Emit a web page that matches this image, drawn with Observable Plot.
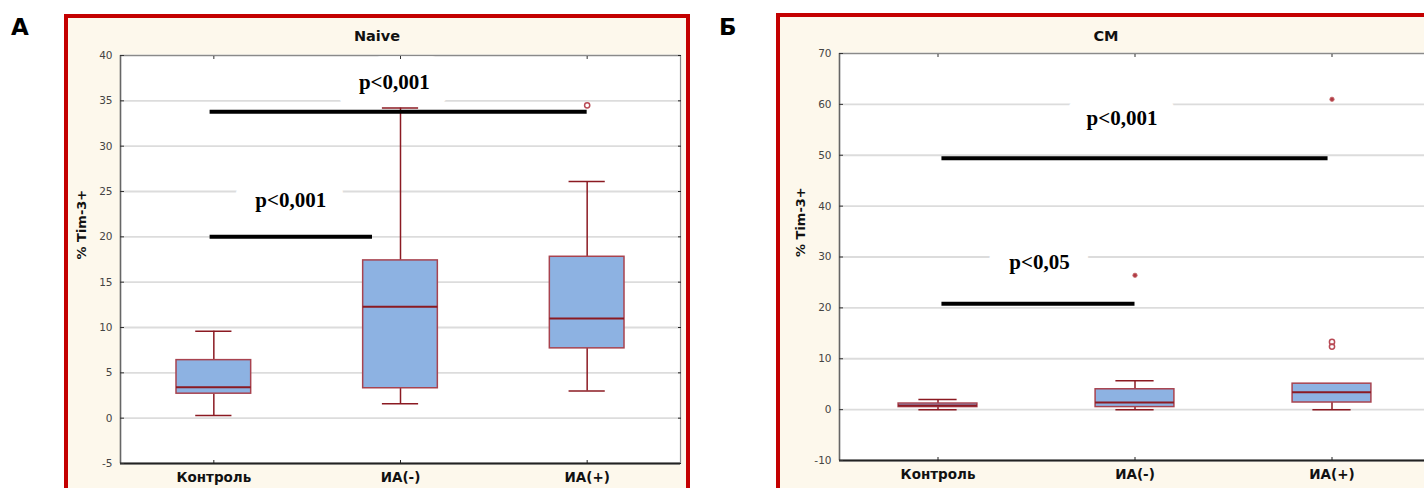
<!DOCTYPE html>
<html><head><meta charset="utf-8">
<script src="https://cdn.jsdelivr.net/npm/d3@7"></script>
<script src="https://cdn.jsdelivr.net/npm/@observablehq/plot@0.6"></script>
<style>
html,body{margin:0;padding:0}
body{width:1424px;height:488px;overflow:hidden;background:#fff;position:relative;font-family:"DejaVu Sans",sans-serif;}
.panel{position:absolute;border:4px solid #c40000;background:#fdf8ec;box-sizing:border-box;}
.plabel{position:absolute;font:bold 23px/1 "DejaVu Sans",sans-serif;color:#000;}
.title{position:absolute;font:bold 14.5px/1 "DejaVu Sans",sans-serif;color:#111;transform:translateX(-50%);white-space:nowrap}
.plot{position:absolute}
.plot svg{max-width:none !important}
</style></head><body>
<div class="plabel" style="left:11px;top:16px">А</div>
<div class="plabel" style="left:719px;top:16px">Б</div>
<div class="panel" style="left:64px;top:14px;width:626px;height:490px"></div>
<div class="panel" style="left:776px;top:13px;width:660px;height:490px"></div>
<div class="title" id="ta" style="left:377px;top:29px"></div>
<div class="title" id="tb" style="left:1106px;top:29px"></div>
<div id="pa" class="plot" style="left:68px;top:18px;width:618px;height:470px"></div>
<div id="pb" class="plot" style="left:780px;top:17px;width:652px;height:471px"></div>
<script>
const groups = ["Контроль", "ИА(-)", "ИА(+)"];
const yLabel = "% Tim-3+";

// Panel A — Naive
const naiveTitle = "Naive";
const naiveLow = [0.3, 1.6, 3.0];
const naiveQ1 = [2.7, 3.3, 7.7];
const naiveMedian = [3.4, 12.3, 11.0];
const naiveQ3 = [6.4, 17.4, 17.8];
const naiveHigh = [9.6, 34.2, 26.1];
const naiveOutlierGroup = [2];
const naiveOutlierValue = [34.5];
const naiveExtremeGroup = [];
const naiveExtremeValue = [];
const naiveSigFrom = [-0.02, -0.02];
const naiveSigTo = [2.0, 0.85];
const naiveSigValue = [33.8, 20.0];
const naiveSigText = ["p<0,001", "p<0,001"];
const naiveSigTextX = [0.967, 0.412];
const naiveSigTextY = [37.0, 24.0];
const naiveYTicks = [-5, 0, 5, 10, 15, 20, 25, 30, 35, 40];

// Panel B — CM
const cmTitle = "CM";
const cmLow = [0.0, 0.0, 0.0];
const cmQ1 = [0.5, 0.5, 1.4];
const cmMedian = [0.8, 1.4, 3.4];
const cmQ3 = [1.2, 4.0, 5.1];
const cmHigh = [2.0, 5.7, 5.1];
const cmOutlierGroup = [2, 2];
const cmOutlierValue = [13.3, 12.4];
const cmExtremeGroup = [1, 2];
const cmExtremeValue = [26.4, 61.0];
const cmSigFrom = [0.02, 0.02];
const cmSigTo = [1.98, 1.0];
const cmSigValue = [49.4, 20.8];
const cmSigText = ["p<0,001", "p<0,05"];
const cmSigTextX = [0.934, 0.515];
const cmSigTextY = [57.3, 28.9];
const cmYTicks = [-10, 0, 10, 20, 30, 40, 50, 60, 70];

const BOX_HALF = 0.2, CAP_HALF = 0.097;

document.getElementById("ta").textContent = naiveTitle;
document.getElementById("tb").textContent = cmTitle;

function panel(o) {
  const boxes = groups.map((g, i) => ({i, low: o.low[i], q1: o.q1[i], med: o.med[i], q3: o.q3[i], high: o.high[i]}));
  const outl = o.outG.map((g, k) => ({i: g, v: o.outV[k]}));
  const ext = o.extG.map((g, k) => ({i: g, v: o.extV[k]}));
  const sig = o.sigFrom.map((f, k) => ({x1: f, x2: o.sigTo[k], y: o.sigY[k]}));
  const sigT = o.sigText.map((t, k) => ({t, x: o.sigTX[k], y: o.sigTY[k]}));
  const ymin = o.domain[0];
  const dark = "#8b1a22";
  const fmt = d => String(d);
  return Plot.plot({
    width: o.width, height: o.height,
    marginLeft: o.ml, marginRight: o.mr, marginTop: o.mt, marginBottom: o.mb,
    style: {background: "transparent", fontFamily: "DejaVu Sans, sans-serif", maxWidth: "none"},
    x: {domain: [-0.5, 2.5]},
    y: {domain: o.domain},
    marks: [
      Plot.frame({fill: "white", stroke: null}),
      Plot.gridY(o.ticks, {stroke: "#dcdcdc", strokeOpacity: 1, strokeWidth: 1.8}),
      Plot.text(sigT, {x: "x", y: "y", text: "t", fill: "none", stroke: "white", strokeWidth: 40, strokeLinejoin: "round", fontSize: 21, fontWeight: "bold", fontFamily: "Liberation Serif, serif"}),
      Plot.frame({stroke: "#8a8a8a", strokeWidth: 1.2}),
      Plot.ruleX([-0.5], {stroke: "#666", strokeWidth: 1.5}),
      Plot.ruleY([ymin], {stroke: "#222", strokeWidth: 2}),
      Plot.axisY(o.ticks, {anchor: "left", tickSize: 0, tickPadding: 8, tickFormat: fmt, fontSize: 10.5, color: "#444", label: null}),
      Plot.axisY(o.ticks, {anchor: "left", tickSize: 4, dx: 4, tickFormat: () => "", label: null, stroke: "#333"}),
      Plot.axisY(o.ticks, {anchor: "right", tickSize: 3, dx: -3, tickFormat: () => "", label: null, stroke: "#222"}),
      Plot.axisX([0, 1, 2], {anchor: "bottom", tickSize: 0, tickPadding: 9, tickFormat: i => groups[i], fontSize: 13.5, fontWeight: "bold", color: "#111", label: null}),
      Plot.axisX([0, 1, 2], {anchor: "bottom", tickSize: 3, dy: -3, tickFormat: () => "", label: null, stroke: "#222"}),
      Plot.axisX([0, 1, 2], {anchor: "top", tickSize: 3, dy: 3, tickFormat: () => "", label: null, stroke: "#333"}),
      Plot.text([yLabel], {frameAnchor: "left", rotate: -90, dx: -39, fontWeight: "bold", fontSize: 13, fill: "#111"}),
      Plot.ruleX(boxes, {x: "i", y1: "low", y2: "q1", stroke: dark, strokeWidth: 1.5}),
      Plot.ruleX(boxes, {x: "i", y1: "q3", y2: "high", stroke: dark, strokeWidth: 1.5}),
      Plot.ruleY(boxes, {y: "low", x1: d => d.i - CAP_HALF, x2: d => d.i + CAP_HALF, stroke: dark, strokeWidth: 1.5}),
      Plot.ruleY(boxes, {y: "high", x1: d => d.i - CAP_HALF, x2: d => d.i + CAP_HALF, stroke: dark, strokeWidth: 1.5}),
      Plot.rect(boxes, {x1: d => d.i - BOX_HALF, x2: d => d.i + BOX_HALF, y1: "q1", y2: "q3", fill: "#8db2e2", stroke: "#a8434f", strokeWidth: 1.5}),
      Plot.ruleY(boxes, {y: "med", x1: d => d.i - BOX_HALF, x2: d => d.i + BOX_HALF, stroke: dark, strokeWidth: 2}),
      Plot.dot(outl, {x: "i", y: "v", r: 2.6, stroke: "#b84a55", strokeWidth: 1.5, fill: "none"}),
      Plot.dot(ext, {x: "i", y: "v", r: 2.2, fill: "#b03a45", stroke: "#c77", strokeWidth: 0.8}),
      Plot.ruleY(sig, {y: "y", x1: "x1", x2: "x2", stroke: "#000", strokeWidth: 4}),
      Plot.text(sigT, {x: "x", y: "y", text: "t", fill: "#000", fontSize: 21, fontWeight: "bold", fontFamily: "Liberation Serif, serif"})
    ]
  });
}

document.getElementById("pa").append(panel({
  width: 618, height: 470, ml: 52, mr: 6, mt: 37, mb: 25,
  domain: [-5, 40], ticks: naiveYTicks,
  low: naiveLow, q1: naiveQ1, med: naiveMedian, q3: naiveQ3, high: naiveHigh,
  outG: naiveOutlierGroup, outV: naiveOutlierValue, extG: naiveExtremeGroup, extV: naiveExtremeValue,
  sigFrom: naiveSigFrom, sigTo: naiveSigTo, sigY: naiveSigValue, sigText: naiveSigText, sigTX: naiveSigTextX, sigTY: naiveSigTextY
}));
document.getElementById("pb").append(panel({
  width: 652, height: 471, ml: 59, mr: 2, mt: 36, mb: 28,
  domain: [-10, 70], ticks: cmYTicks,
  low: cmLow, q1: cmQ1, med: cmMedian, q3: cmQ3, high: cmHigh,
  outG: cmOutlierGroup, outV: cmOutlierValue, extG: cmExtremeGroup, extV: cmExtremeValue,
  sigFrom: cmSigFrom, sigTo: cmSigTo, sigY: cmSigValue, sigText: cmSigText, sigTX: cmSigTextX, sigTY: cmSigTextY
}));
</script>
</body></html>
